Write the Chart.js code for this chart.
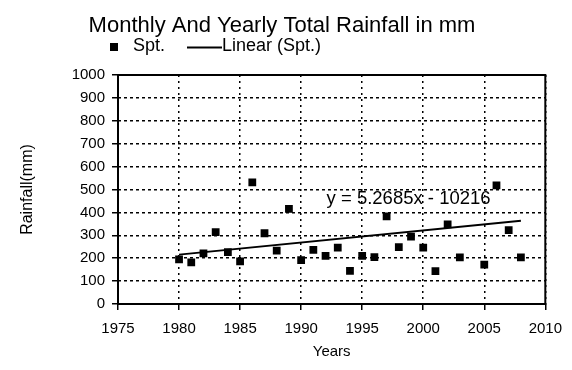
<!DOCTYPE html>
<html>
<head>
<meta charset="utf-8">
<title>Monthly And Yearly Total Rainfall in mm</title>
<script src="https://cdn.jsdelivr.net/npm/chart.js@4"></script>
<style>
  html, body { margin: 0; padding: 0; background: #fff; }
  #wrap { position: relative; width: 572px; height: 370px; }
</style>
</head>
<body>
<div id="wrap"><canvas id="rain"></canvas></div>
<script>
(function () {
  'use strict';

  // ---- Yearly totals (mm) -----------------------------------
  var years = [1980, 1981, 1982, 1983, 1984, 1985, 1986, 1987, 1988, 1989,
               1990, 1991, 1992, 1993, 1994, 1995, 1996, 1997, 1998, 1999,
               2000, 2001, 2002, 2003, 2005, 2006, 2007, 2008];
  var rainfall = [195, 182, 221, 314, 227, 186, 531, 309, 233, 415,
                  192, 236, 210, 246, 145, 210, 205, 383, 248, 294,
                  246, 144, 348, 204, 172, 518, 323, 204];

  // ---- Linear trend as printed on the chart ------------------
  var trendSlope = 5.2685;
  var trendIntercept = -10216;
  var trendLabel = 'y = 5.2685x - 10216';

  // ---- Axis ticks --------------------------------------------
  var xTicks = [1975, 1980, 1985, 1990, 1995, 2000, 2005, 2010];
  var yTicks = [0, 100, 200, 300, 400, 500, 600, 700, 800, 900, 1000];

  var FONT = "'Liberation Sans', Arial, sans-serif";

  var points = years.map(function (y, i) { return { x: y, y: rainfall[i] }; });
  var firstYear = years[0];
  var lastYear = years[years.length - 1];
  var trend = [
    { x: firstYear, y: trendSlope * firstYear + trendIntercept },
    { x: lastYear, y: trendSlope * lastYear + trendIntercept }
  ];

  // ---- Title, legend, frame and equation ---------------------
  var decor = {
    id: 'decor',
    beforeDatasetsDraw: function (chart) {
      var a = chart.chartArea;
      var ctx = chart.ctx;
      ctx.save();
      ctx.strokeStyle = '#000';
      ctx.lineWidth = 2;
      ctx.strokeRect(a.left, a.top, a.right - a.left, a.bottom - a.top);
      ctx.restore();
    },
    afterDraw: function (chart) {
      var ctx = chart.ctx;
      var xs = chart.scales.x, ys = chart.scales.y;
      ctx.save();
      ctx.fillStyle = '#000';
      ctx.strokeStyle = '#000';

      // title
      ctx.font = '22px ' + FONT;
      ctx.textAlign = 'center';
      ctx.textBaseline = 'alphabetic';
      ctx.fillText('Monthly And Yearly Total Rainfall in mm', 282, 32);

      // legend
      var ds = chart.data.datasets;
      ctx.font = '18px ' + FONT;
      ctx.textAlign = 'left';
      ctx.fillRect(110, 43, 8, 8);
      ctx.fillText(ds[0].label, 133, 51);
      ctx.lineWidth = 2;
      ctx.beginPath();
      ctx.moveTo(187, 47.5);
      ctx.lineTo(222, 47.5);
      ctx.stroke();
      ctx.fillText(ds[1].label, 222, 51);

      // trend equation
      ctx.font = '18.5px ' + FONT;
      ctx.textAlign = 'center';
      ctx.fillText(trendLabel, xs.getPixelForValue(1998.8), ys.getPixelForValue(435));
      ctx.restore();
    }
  };

  function gridStyle(dash) {
    return {
      grid: {
        color: '#000',
        lineWidth: 1.5,
        tickLength: 6,
        tickColor: '#000',
        tickWidth: 1.5,
        tickBorderDash: []
      },
      border: { display: false, dash: dash }
    };
  }

  var xGrid = gridStyle([2, 4]);
  var yGrid = gridStyle([3, 3]);

  new Chart(document.getElementById('rain'), {
    type: 'scatter',
    data: {
      datasets: [
        {
          label: 'Spt.',
          data: points,
          pointStyle: 'rect',
          pointRadius: 5.5,
          pointHoverRadius: 5.5,
          backgroundColor: '#000',
          borderColor: '#000',
          borderWidth: 0
        },
        {
          type: 'line',
          label: 'Linear (Spt.)',
          data: trend,
          borderColor: '#000',
          borderWidth: 2,
          pointRadius: 0,
          fill: false
        }
      ]
    },
    options: {
      responsive: true,
      maintainAspectRatio: false,
      animation: false,
      layout: { padding: { top: 75, right: 26, bottom: 0, left: 0 } },
      plugins: {
        legend: { display: false },
        title: { display: false },
        tooltip: { enabled: false }
      },
      scales: {
        x: {
          type: 'linear',
          min: 1975,
          max: 2010,
          afterBuildTicks: function (s) {
            s.ticks = xTicks.map(function (v) { return { value: v }; });
          },
          afterFit: function (s) { s.height = 66; },
          grid: xGrid.grid,
          border: xGrid.border,
          ticks: {
            color: '#000',
            font: { family: FONT, size: 15 },
            padding: 10,
            maxRotation: 0,
            callback: function (v) { return String(v); }
          },
          title: {
            display: true,
            text: 'Years',
            color: '#000',
            font: { family: FONT, size: 15 },
            padding: { top: 0, bottom: 9 }
          }
        },
        y: {
          min: 0,
          max: 1000,
          afterBuildTicks: function (s) {
            s.ticks = yTicks.map(function (v) { return { value: v }; });
          },
          afterFit: function (s) { s.width = 118; },
          grid: yGrid.grid,
          border: yGrid.border,
          ticks: {
            color: '#000',
            font: { family: FONT, size: 15 },
            padding: 7,
            callback: function (v) { return String(v); }
          },
          title: {
            display: true,
            text: 'Rainfall(mm)',
            color: '#000',
            font: { family: FONT, size: 16 },
            padding: { top: 18, bottom: 0 }
          }
        }
      }
    },
    plugins: [decor]
  });
})();
</script>
</body>
</html>
